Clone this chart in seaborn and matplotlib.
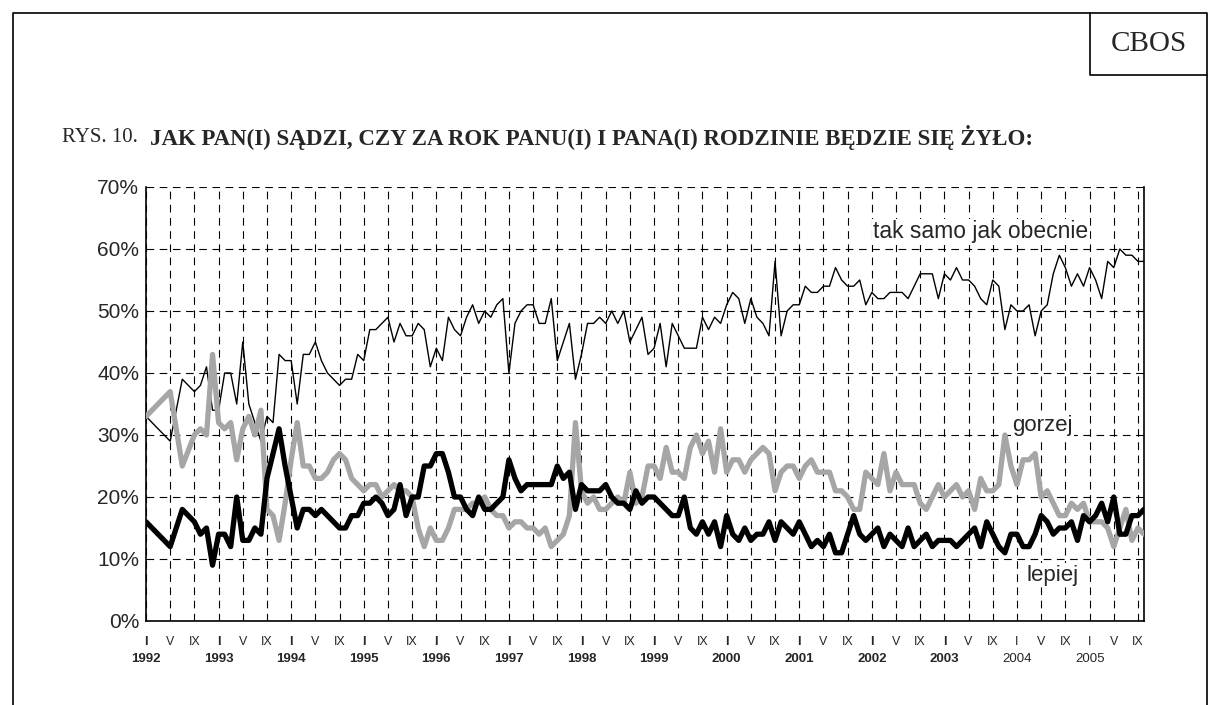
import pandas as pd
import seaborn as sns
import matplotlib.pyplot as plt
from matplotlib.lines import Line2D

sns.set_style('white')
plt.rcParams['font.family'] = ['Liberation Sans', 'DejaVu Sans']
plt.rcParams['lines.scale_dashes'] = False

# monthly readings, I 1992 .. X 2005 (None = no survey that month)
tak_samo = [33, None, None, None, 29, None, 39, None, 37, 38, 41, 34,
            34, 40, 40, 35, 45, 35, 32, 29, 33, 32, 43, 42,
            42, 35, 43, 43, 45, 42, 40, 39, 38, 39, 39, 43,
            42, 47, 47, 48, 49, 45, 48, 46, 46, 48, 47, 41,
            44, 42, 49, 47, 46, 49, 51, 48, 50, 49, 51, 52,
            40, 48, 50, 51, 51, 48, 48, 52, 42, 45, 48, 39,
            43, 48, 48, 49, 48, 50, 48, 50, 45, 47, 49, 43,
            44, 48, 41, 48, 46, 44, 44, 44, 49, 47, 49, 48,
            51, 53, 52, 48, 52, 49, 48, 46, 58, 46, 50, 51,
            51, 54, 53, 53, 54, 54, 57, 55, 54, 54, 55, 51,
            53, 52, 52, 53, 53, 53, 52, 54, 56, 56, 56, 52,
            56, 55, 57, 55, 55, 54, 52, 51, 55, 54, 47, 51,
            50, 50, 51, 46, 50, 51, 56, 59, 57, 54, 56, 54,
            57, 55, 52, 58, 57, 60, 59, 59, 58, 58]

gorzej = [33, None, None, None, 37, None, 25, None, 30, 31, 30, 43,
          32, 31, 32, 26, 31, 33, 30, 34, 18, 17, 13, 19,
          26, 32, 25, 25, 23, 23, 24, 26, 27, 26, 23, 22,
          21, 22, 22, 20, 21, 22, 21, 21, 20, 15, 12, 15,
          13, 13, 15, 18, 18, 18, 19, 19, 20, 18, 17, 17,
          15, 16, 16, 15, 15, 14, 15, 12, 13, 14, 17, 32,
          21, 19, 20, 18, 18, 19, 20, 19, 24, 19, 20, 25,
          25, 23, 28, 24, 24, 23, 28, 30, 27, 29, 24, 31,
          24, 26, 26, 24, 26, 27, 28, 27, 21, 24, 25, 25,
          23, 25, 26, 24, 24, 24, 21, 21, 20, 18, 18, 24,
          23, 22, 27, 21, 24, 22, 22, 22, 19, 18, 20, 22,
          20, 21, 22, 20, 21, 18, 23, 21, 21, 22, 30, 25,
          22, 26, 26, 27, 20, 21, 19, 17, 17, 19, 18, 19,
          16, 16, 16, 15, 12, 15, 18, 13, 15, 14]

lepiej = [16, None, None, None, 12, None, 18, None, 16, 14, 15, 9,
          14, 14, 12, 20, 13, 13, 15, 14, 23, 27, 31, 25,
          20, 15, 18, 18, 17, 18, 17, 16, 15, 15, 17, 17,
          19, 19, 20, 19, 17, 18, 22, 17, 20, 20, 25, 25,
          27, 27, 24, 20, 20, 18, 17, 20, 18, 18, 19, 20,
          26, 23, 21, 22, 22, 22, 22, 22, 25, 23, 24, 18,
          22, 21, 21, 21, 22, 20, 19, 19, 18, 21, 19, 20,
          20, 19, 18, 17, 17, 20, 15, 14, 16, 14, 16, 12,
          17, 14, 13, 15, 13, 14, 14, 16, 13, 16, 15, 14,
          16, 14, 12, 13, 12, 14, 11, 11, 14, 17, 14, 13,
          14, 15, 12, 14, 13, 12, 15, 12, 13, 14, 12, 13,
          13, 13, 12, 13, 14, 15, 12, 16, 14, 12, 11, 14,
          14, 12, 12, 14, 17, 16, 14, 15, 15, 16, 13, 17,
          16, 17, 19, 16, 20, 14, 14, 17, 17, 18]

years = list(range(1992, 2006))
bold_years = [y for y in years if y <= 2003]
roman = ['I', 'V', 'IX']

months = list(range(len(tak_samo)))
df = pd.DataFrame({'miesiac': months, 'tak samo jak obecnie': tak_samo,
                   'gorzej': gorzej, 'lepiej': lepiej})
df = df.melt(id_vars='miesiac', var_name='seria', value_name='proc').dropna()

W, H = 1209, 705
fig = plt.figure(figsize=(W / 100, H / 100), dpi=100)
ax = fig.add_axes([146 / W, 1 - 621 / H, (1144 - 146) / W, (621 - 187) / H])

styles = [('tak samo jak obecnie', 'black', 1.0),
          ('gorzej', '#a6a6a6', 3.8),
          ('lepiej', 'black', 3.8)]
for name, col, lw in styles:
    sns.lineplot(data=df[df['seria'] == name], x='miesiac', y='proc',
                 color=col, lw=lw, ax=ax, legend=False, zorder=3)

ax.set_xlim(0, months[-1])
ax.set_ylim(0, 70)
ax.set_xlabel('')
ax.set_ylabel('')

ax.set_yticks(range(0, 71, 10))
ax.set_yticklabels([f'{v}%' for v in range(0, 71, 10)], fontsize=15)
major = list(range(0, months[-1] + 1, 4))
ax.set_xticks(major)
ax.set_xticklabels([roman[(m % 12) // 4] for m in major], fontsize=9)
ax.set_xticks(months, minor=True)
for lab, m in zip(ax.get_xticklabels(), major):
    if m % 12 == 0 and 1992 + m // 12 in bold_years:
        lab.set_fontweight('bold')
ax.tick_params(axis='x', which='major', direction='out', length=7, width=1, pad=3.5)
ax.tick_params(axis='x', which='minor', direction='out', length=3, width=0.8)
ax.tick_params(axis='y', direction='out', length=4, width=0.8, pad=1)

for y in years:
    ax.text((y - 1992) * 12, -0.088, str(y), transform=ax.get_xaxis_transform(),
            ha='center', va='center', fontsize=9.5,
            fontweight='bold' if y in bold_years else 'normal')

ax.grid(True, which='major', color='black', lw=0.8, ls=(0, (5.5, 4)))
for side in ['left', 'bottom', 'right']:
    ax.spines[side].set_color('black')
    ax.spines[side].set_linewidth(1.2)
ax.spines['top'].set_visible(False)

box = dict(facecolor='white', edgecolor='none', pad=1)
ax.text(120.2, 62.8, 'tak samo jak obecnie', fontsize=16.5, va='center', bbox=box, zorder=4)
ax.text(143.2, 31.5, 'gorzej', fontsize=16, va='center', bbox=box, zorder=4)
ax.text(145.6, 7.4, 'lepiej', fontsize=16, va='center', bbox=box, zorder=4)

# outer frame and the CBOS box
def fline(xs, ys, lw=1.2):
    fig.add_artist(Line2D([x / W for x in xs], [1 - y / H for y in ys],
                          transform=fig.transFigure, color='black', lw=lw))

fline([13, 13, 1207, 1207], [705, 13, 13, 705])
fline([1090, 1090, 1207], [13, 75, 75])
fig.text(1149 / W, 1 - 44 / H, 'CBOS', fontsize=21, family='Liberation Serif',
         ha='center', va='center')

fig.text(62 / W, 1 - 137 / H, 'RYS. 10.', fontsize=15, family='Liberation Serif',
         va='center')
fig.text(150 / W, 1 - 137 / H,
         'JAK PAN(I) SĄDZI, CZY ZA ROK PANU(I) I PANA(I) RODZINIE BĘDZIE SIĘ ŻYŁO:',
         fontsize=16.5, family='Liberation Serif', fontweight='bold', va='center')

fig.savefig('out.png', dpi=100)
